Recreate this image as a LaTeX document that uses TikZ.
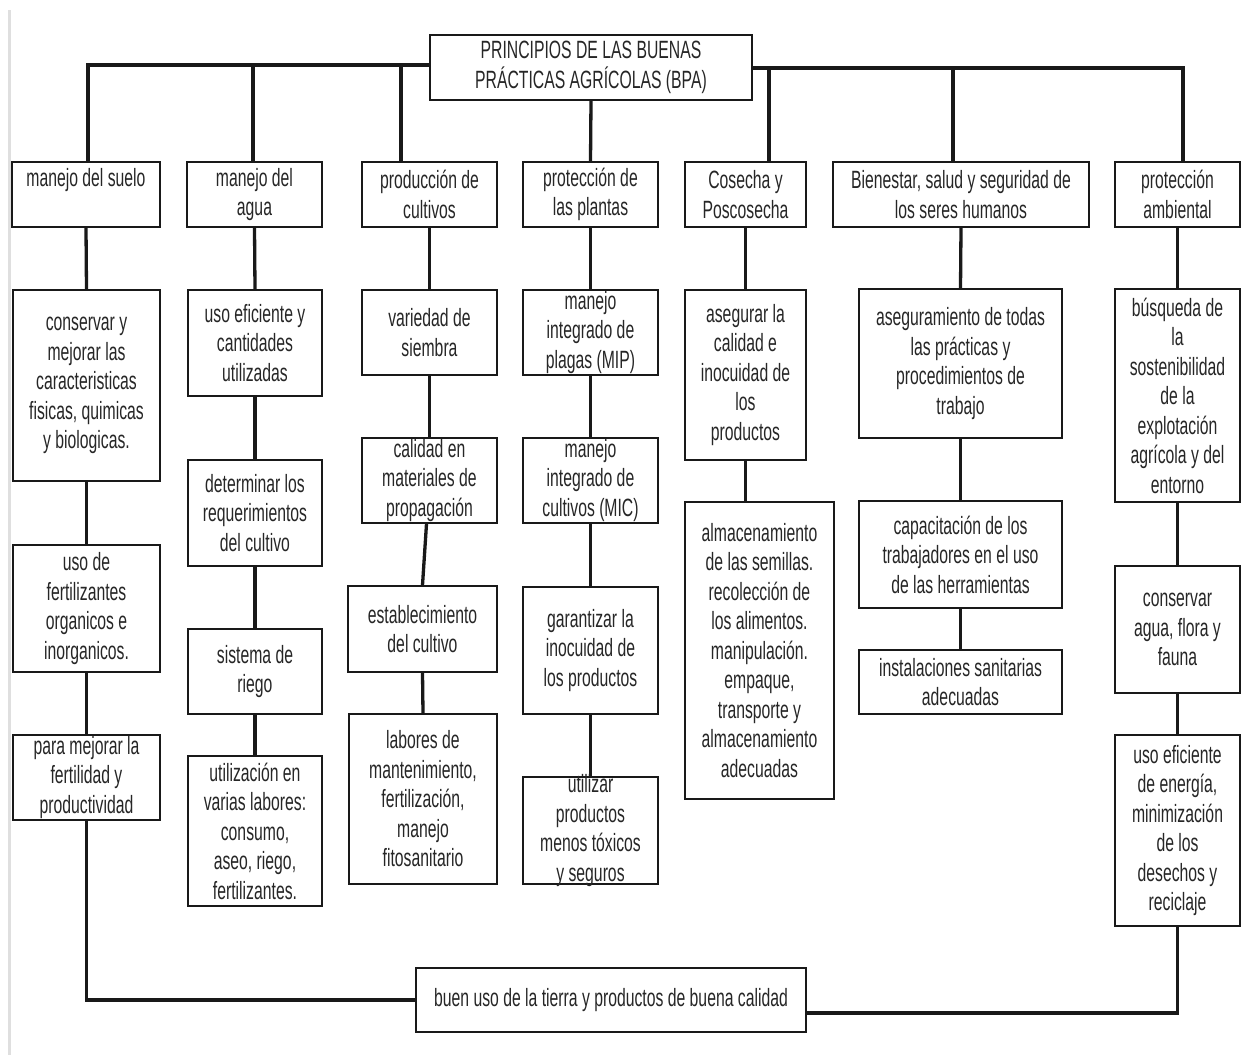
\documentclass[tikz,border=0pt]{standalone}
\usepackage{fontspec}
\setmainfont{Liberation Sans}[FakeStretch=0.63]
\usetikzlibrary{positioning}

\tikzset{
  box/.style={draw=black!90, line width=1.8pt, inner sep=0pt},
  txt/.style={align=center, inner sep=0pt, text=black!85, font=\fontsize{25}{29.5}\selectfont},
  link/.style={draw=black!90, line width=3.3pt}
}

\begin{document}
\begin{tikzpicture}[x=1pt, y=-1pt]
    \useasboundingbox (0,0) rectangle (1244,1055);
    % page edge on the left
    \fill[gray!25] (8,10) rectangle (11,1055);

    % Title
    \node[box, minimum width=322pt, minimum height=65pt] (top) at (591,67.5) {};
    \node[txt] (top-t) at (top) {PRINCIPIOS DE LAS BUENAS\\PRÁCTICAS AGRÍCOLAS (BPA)};

    % First level
    \node[box, minimum width=148pt, minimum height=65pt] (suelo) at (86,194.5) {};
    \node[txt] (suelo-t) at (86,180) {manejo del suelo};
    \node[box, minimum width=135pt, minimum height=65pt] (agua) at (254.5,194.5) {};
    \node[txt] (agua-t) at (agua) {manejo del\\agua};
    \node[box, minimum width=135pt, minimum height=65pt] (prod) at (429.5,194.5) {};
    \node[txt] (prod-t) at (prod) {producción de\\cultivos};
    \node[box, minimum width=135pt, minimum height=65pt] (prot) at (590.5,194.5) {};
    \node[txt] (prot-t) at (prot) {protección de\\las plantas};
    \node[box, minimum width=121pt, minimum height=65pt] (cosecha) at (745.5,194.5) {};
    \node[txt] (cosecha-t) at (cosecha) {Cosecha y\\Poscosecha};
    \node[box, minimum width=256pt, minimum height=65pt] (bien) at (961,194.5) {};
    \node[txt] (bien-t) at (bien) {Bienestar, salud y seguridad de\\los seres humanos};
    \node[box, minimum width=125pt, minimum height=65pt] (amb) at (1177.5,194.5) {};
    \node[txt] (amb-t) at (amb) {protección\\ambiental};

    % Column: suelo
    \node[box, minimum width=147pt, minimum height=191pt] (conservar) at (86.5,385.5) {};
    \node[txt] (conservar-t) at (conservar) {conservar y\\mejorar las\\caracteristicas\\fisicas, quimicas\\y biologicas.};
    \node[box, minimum width=147pt, minimum height=127pt] (fert) at (86.5,608.5) {};
    \node[txt] (fert-t) at (fert) {uso de\\fertilizantes\\organicos e\\inorganicos.};
    \node[box, minimum width=147pt, minimum height=85pt] (mejorar) at (86.5,777.5) {};
    \node[txt] (mejorar-t) at (mejorar) {para mejorar la\\fertilidad y\\productividad};

    % Column: agua
    \node[box, minimum width=134pt, minimum height=106pt] (eficiente) at (255,343) {};
    \node[txt] (eficiente-t) at (eficiente) {uso eficiente y\\cantidades\\utilizadas};
    \node[box, minimum width=134pt, minimum height=106pt] (determinar) at (255,513) {};
    \node[txt] (determinar-t) at (determinar) {determinar los\\requerimientos\\del cultivo};
    \node[box, minimum width=134pt, minimum height=85pt] (riego) at (255,671.5) {};
    \node[txt] (riego-t) at (riego) {sistema de\\riego};
    \node[box, minimum width=134pt, minimum height=150pt] (utilizacion) at (255,831) {};
    \node[txt] (utilizacion-t) at (utilizacion) {utilización en\\varias labores:\\consumo,\\aseo, riego,\\fertilizantes.};

    % Column: cultivos
    \node[box, minimum width=135pt, minimum height=85pt] (variedad) at (429.5,332.5) {};
    \node[txt] (variedad-t) at (variedad) {variedad de\\siembra};
    \node[box, minimum width=135pt, minimum height=85pt] (calidad) at (429.5,480.5) {};
    \node[txt] (calidad-t) at (calidad) {calidad en\\materiales de\\propagación};
    \node[box, minimum width=149pt, minimum height=86pt] (establec) at (422.5,629) {};
    \node[txt] (establec-t) at (establec) {establecimiento\\del cultivo};
    \node[box, minimum width=148pt, minimum height=170pt] (labores) at (423,799) {};
    \node[txt] (labores-t) at (labores) {labores de\\mantenimiento,\\fertilización,\\manejo\\fitosanitario};

    % Column: plantas
    \node[box, minimum width=135pt, minimum height=85pt] (mip) at (590.5,332.5) {};
    \node[txt] (mip-t) at (mip) {manejo\\integrado de\\plagas (MIP)};
    \node[box, minimum width=135pt, minimum height=85pt] (mic) at (590.5,480.5) {};
    \node[txt] (mic-t) at (mic) {manejo\\integrado de\\cultivos (MIC)};
    \node[box, minimum width=135pt, minimum height=127pt] (garantizar) at (590.5,650.5) {};
    \node[txt] (garantizar-t) at (garantizar) {garantizar la\\inocuidad de\\los productos};
    \node[box, minimum width=135pt, minimum height=107pt] (toxicos) at (590.5,830.5) {};
    \node[txt] (toxicos-t) at (toxicos) {utilizar\\productos\\menos tóxicos\\y seguros};

    % Column: cosecha
    \node[box, minimum width=121pt, minimum height=170pt] (asegurar) at (745.5,375) {};
    \node[txt] (asegurar-t) at (asegurar) {asegurar la\\calidad e\\inocuidad de\\los\\productos};
    \node[box, minimum width=149pt, minimum height=297pt] (almacen) at (759.5,650.5) {};
    \node[txt] (almacen-t) at (almacen) {almacenamiento\\de las semillas.\\recolección de\\los alimentos.\\manipulación.\\empaque,\\transporte y\\almacenamiento\\adecuadas};

    % Column: bienestar
    \node[box, minimum width=203pt, minimum height=149pt] (asegura) at (960.5,363.5) {};
    \node[txt] (asegura-t) at (asegura) {aseguramiento de todas\\las prácticas y\\procedimientos de\\trabajo};
    \node[box, minimum width=203pt, minimum height=107pt] (capacita) at (960.5,554.5) {};
    \node[txt] (capacita-t) at (capacita) {capacitación de los\\trabajadores en el uso\\de las herramientas};
    \node[box, minimum width=203pt, minimum height=64pt] (instala) at (960.5,682) {};
    \node[txt] (instala-t) at (instala) {instalaciones sanitarias\\adecuadas};

    % Column: ambiental
    \node[box, minimum width=125pt, minimum height=213pt] (busqueda) at (1177.5,395.5) {};
    \node[txt] (busqueda-t) at (busqueda) {búsqueda de\\la\\sostenibilidad\\de la\\explotación\\agrícola y del\\entorno};
    \node[box, minimum width=125pt, minimum height=127pt] (flora) at (1177.5,629.5) {};
    \node[txt] (flora-t) at (flora) {conservar\\agua, flora y\\fauna};
    \node[box, minimum width=125pt, minimum height=191pt] (energia) at (1177.5,830.5) {};
    \node[txt] (energia-t) at (energia) {uso eficiente\\de energía,\\minimización\\de los\\desechos y\\reciclaje};

    % Result
    \node[box, minimum width=390pt, minimum height=64pt] (final) at (611,1000) {};
    \node[txt] (final-t) at (final) {buen uso de la tierra y productos de buena calidad};

    % Bus from the title
    \coordinate (busL) at (88,65);
    \coordinate (busR) at (1183,68);
    \draw[link] (top.west |- busL) -- (busL) -- (busL |- suelo.north);
    \draw[link] (top.east |- busR) -- (busR) -- (busR |- amb.north);
    \coordinate (b2) at (253,65);
    \coordinate (b3) at (401,65);
    \coordinate (b5) at (769,68);
    \coordinate (b6) at (953,68);
    \draw[link] (b2) -- (b2 |- agua.north);
    \draw[link] (b3) -- (b3 |- prod.north);
    \draw[link] (b5) -- (b5 |- cosecha.north);
    \draw[link] (b6) -- (b6 |- bien.north);
    \draw[link] (top.south) -- (prot.north);

    % Columns
    \foreach \a/\b in {suelo/conservar, conservar/fert, fert/mejorar,
                      agua/eficiente, eficiente/determinar, determinar/riego, riego/utilizacion,
                      prod/variedad, variedad/calidad, establec/labores,
                      prot/mip, mip/mic, mic/garantizar, garantizar/toxicos,
                      cosecha/asegurar,
                      bien/asegura, asegura/capacita, capacita/instala,
                      amb/busqueda, busqueda/flora, flora/energia}
        \draw[link] (\a.south) -- (\b.north);
    \draw[link] ([xshift=-3pt]calidad.south) -- (establec.north);
    \draw[link] (asegurar.south) -- (asegurar.south |- almacen.north);

    % Closing lines to the result
    \draw[link] (mejorar.south) |- (final.west);
    \coordinate (endR) at ([yshift=-13pt]final.east);
    \draw[link] (energia.south) |- (endR);
\end{tikzpicture}
\end{document}
